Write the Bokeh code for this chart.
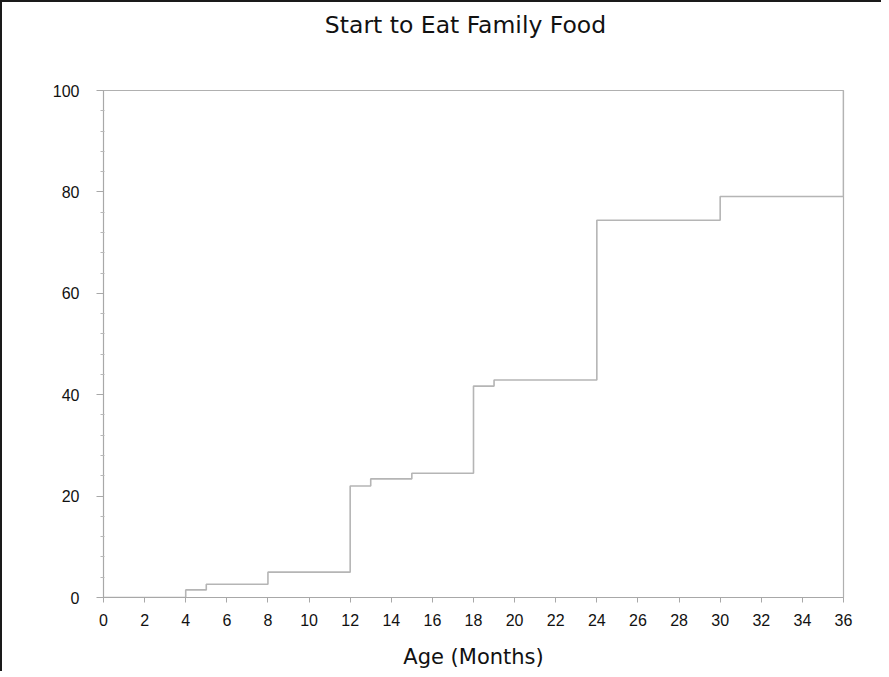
from bokeh.plotting import figure
from bokeh.models import Range1d, FixedTicker, Div
from bokeh.layouts import column
from bokeh.embed import file_html
from bokeh.resources import INLINE

# Cumulative percentage starting family food, by age in months (step curve)
ages = [0, 4, 5, 8, 12, 13, 15, 18, 19, 24, 30, 36]
pct = [0, 1.5, 2.6, 5.0, 22.0, 23.4, 24.5, 41.7, 42.9, 74.4, 79.1, 100]
x_ticks = list(range(0, 37, 2))
y_ticks = [0, 20, 40, 60, 80, 100]
y_minor = [v for v in range(0, 101, 4) if v % 20 != 0]
title_text = "Start to Eat Family Food"

title = Div(text=title_text, width=831, height=40, margin=(0, 0, 0, 48),
            styles={"font-family": "DejaVu Sans", "font-size": "23.5px",
                    "color": "#111111", "text-align": "center",
                    "line-height": "30px", "padding-top": "8px"})

p = figure(width=879, height=629, output_backend="svg", toolbar_location=None,
           x_range=Range1d(0, 36), y_range=Range1d(0, 100),
           min_border_left=101, min_border_right=38, min_border_top=48, min_border_bottom=20)

p.step(ages, pct, mode="after", line_color="#b5b5b5", line_width=1.6)

p.xgrid.visible = False
p.ygrid.visible = False
p.outline_line_color = "#b0b0b0"
p.outline_line_width = 1.2
p.background_fill_color = "white"
p.border_fill_color = "white"

xa = p.xaxis[0]
xa.ticker = FixedTicker(ticks=x_ticks)
xa.axis_label = "Age (Months)"
xa.axis_label_text_font = "DejaVu Sans"
xa.axis_label_text_font_size = "21px"
xa.axis_label_text_font_style = "normal"
xa.axis_label_text_color = "#111111"
xa.axis_label_standoff = 16
xa.major_label_text_font = "Liberation Sans"
xa.major_label_text_font_size = "16px"
xa.major_label_text_color = "#111111"
xa.major_label_standoff = 11
xa.major_tick_out = 5
xa.major_tick_in = 0
xa.minor_tick_out = 0
xa.minor_tick_in = 0
xa.axis_line_color = "#a8a8a8"
xa.major_tick_line_color = "#a8a8a8"

ya = p.yaxis[0]
ya.ticker = FixedTicker(ticks=y_ticks, minor_ticks=y_minor)
ya.major_label_text_font = "Liberation Sans"
ya.major_label_text_font_size = "16px"
ya.major_label_text_color = "#111111"
ya.major_label_standoff = 17
ya.major_tick_out = 7
ya.major_tick_in = 0
ya.minor_tick_out = 3
ya.minor_tick_in = 1
ya.axis_line_color = "#a8a8a8"
ya.major_tick_line_color = "#a8a8a8"
ya.minor_tick_line_color = "#b8b8b8"

layout = column(title, p, spacing=0,
                styles={"border-top": "2px solid #1a1a1a", "border-left": "2px solid #1a1a1a",
                        "background-color": "white"})

open("out.html", "w").write(file_html(layout, INLINE))
